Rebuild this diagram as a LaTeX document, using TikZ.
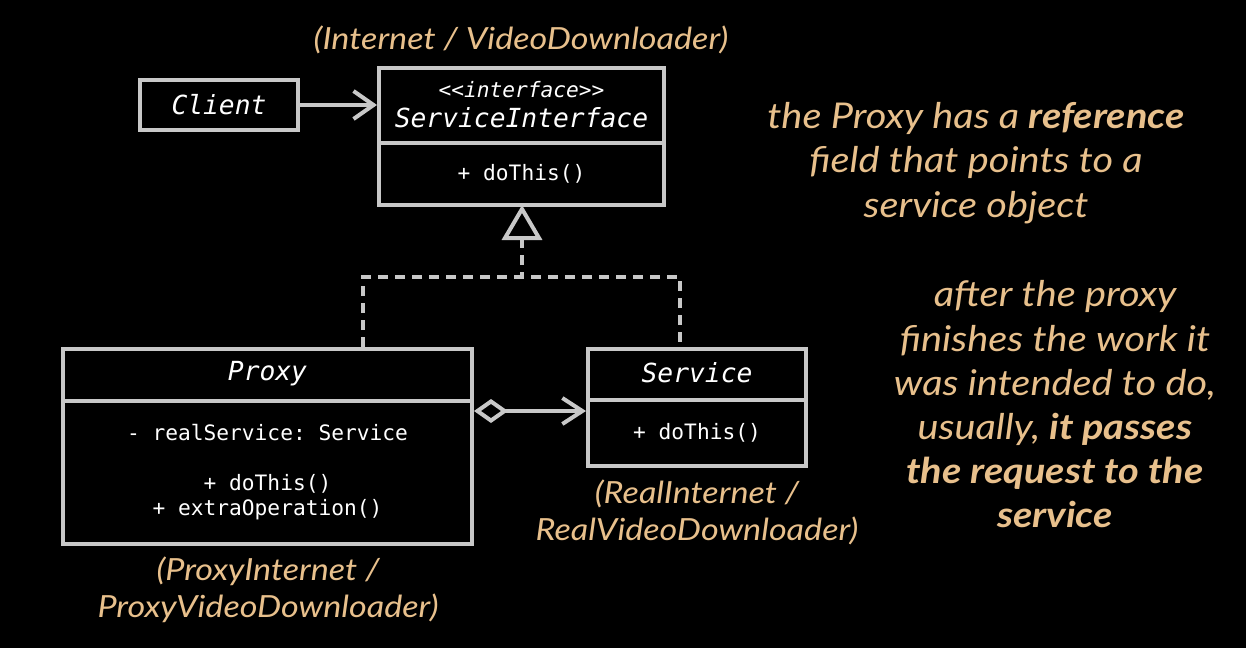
\documentclass[tikz,border=0pt]{standalone}
\usepackage{fontspec}
\setmainfont{Lato}[FakeStretch=1.12]
\setmonofont{DejaVu Sans Mono}
\usetikzlibrary{arrows.meta}
\definecolor{ln}{RGB}{200,200,200}
\definecolor{tanc}{RGB}{232,192,140}
\begin{document}
\begin{tikzpicture}[x=1pt,y=-1pt,
  box/.style={draw=ln, line width=4pt, rectangle, inner sep=0pt},
  conn/.style={draw=ln, line width=4pt},
  dashline/.style={draw=ln, line width=4pt, dash pattern=on 10pt off 7pt},
  titletxt/.style={text=white, font=\fontsize{26.3}{30}\selectfont\ttfamily\itshape, inner sep=0pt},
  membtxt/.style={text=white, font=\fontsize{21.2}{25}\selectfont\ttfamily, inner sep=0pt, align=center},
  lbl/.style={text=tanc, font=\fontsize{30.5}{37}\selectfont\itshape, inner sep=0pt, align=center},
  note/.style={text=tanc, font=\fontsize{35.5}{44.2}\selectfont\itshape, inner sep=0pt, align=center},
  opentip/.style={-{Straight Barb[length=20pt,width=28pt,line width=4pt]}}
]
\fill[black] (0,0) rectangle (1246,648);
\useasboundingbox (0,0) rectangle (1246,648);

% boxes
\node[box, minimum width=158pt, minimum height=50pt] (client) at (219,105) {};
\node[box, minimum width=285pt, minimum height=137pt] (si) at (521.5,136.5) {};
\node[box, minimum width=409pt, minimum height=195pt] (proxy) at (267.5,446.5) {};
\node[box, minimum width=218pt, minimum height=117pt] (service) at (697,407.5) {};

% dividers
\coordinate (sidiv) at (0,143);
\coordinate (prdiv) at (0,401);
\coordinate (svdiv) at (0,400);
\draw[conn] (si.west |- sidiv) -- (si.east |- sidiv);
\draw[conn] (proxy.west |- prdiv) -- (proxy.east |- prdiv);
\draw[conn] (service.west |- svdiv) -- (service.east |- svdiv);

% texts
\node[titletxt] (clientt) at (219,105) {Client};
\node[membtxt, font=\fontsize{21.2}{25}\selectfont\ttfamily\itshape] (sist) at (521.5,90) {<{}<interface>{}>};
\node[titletxt] (sit) at (521.5,118) {ServiceInterface};
\node[membtxt] (sim) at (521.5,174) {+ doThis()};
\node[titletxt] (prt) at (267.5,374) {Proxy};
\node[membtxt] (prf) at (267.5,433) {- realService: Service};
\node[membtxt] (prm) at (267.5,497) {+ doThis()\\+ extraOperation()};
\node[titletxt] (svt) at (697,373) {Service};
\node[membtxt] (svm) at (697,433) {+ doThis()};

% labels
\node[lbl] (sil) at (521,40) {(Internet / VideoDownloader)};
\node[lbl] (prl) at (268,590) {(ProxyInternet /\\ProxyVideoDownloader)};
\node[lbl] (svl) at (697,512) {(RealInternet /\\RealVideoDownloader)};

% notes
\node[note] (n1) at (976,163) {the Proxy has a \textbf{reference}\\field that points to a\\service object};
\node[note] (n2) at (1055,404.5) {after the proxy\\finishes the work it\\was intended to do,\\usually, \textbf{it passes}\\\textbf{the request to the}\\\textbf{service}};

% client -> interface
\draw[conn, opentip] (client.east) -- (si.west |- client.east);

% realization
\coordinate (tribase) at (522,238);
\coordinate (pl) at (363,277);
\coordinate (sl) at (680,277);
\draw[draw=ln, line width=4pt, fill=black, line join=miter] (si.south -| tribase) ++(0,2) -- (505,238) -- (539,238) -- cycle;
\draw[dashline] (tribase) -- (tribase |- pl);
\draw[dashline] (proxy.north -| pl) -- (pl) -- (sl) -- (service.north -| sl);

% aggregation
\coordinate (agy) at (0,411);
\draw[conn, {Diamond[open,length=34pt,width=24pt,line width=4pt]}-{Straight Barb[length=20pt,width=26pt,line width=4pt]}] (proxy.east |- agy) -- (service.west |- agy);
\end{tikzpicture}
\end{document}
